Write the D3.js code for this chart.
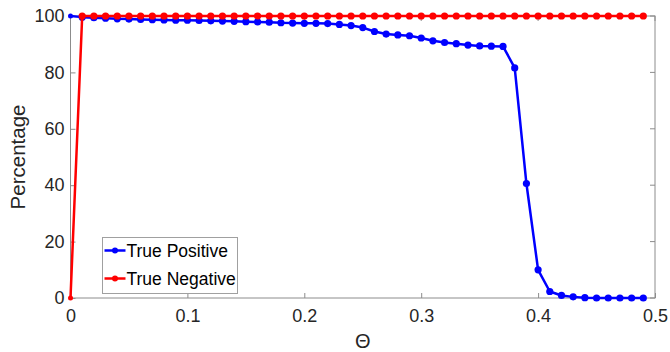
<!DOCTYPE html>
<html>
<head>
<meta charset="utf-8">
<script src="https://cdn.jsdelivr.net/npm/d3@7"></script>
<style>
  body { margin: 0; background: #fff; }
  svg { font-family: "Liberation Sans", Arial, sans-serif; }
</style>
</head>
<body>
<div id="chart"></div>
<script>
// theta steps 0 .. 0.49
const theta = d3.range(50).map(i => +(i * 0.01).toFixed(2))

const truePositive = [
  100, 99.6, 99.4, 99.2, 99.0, 98.9, 98.8, 98.7, 98.6, 98.5,
  98.5, 98.4, 98.3, 98.2, 98.1, 98.0, 97.9, 97.8, 97.6, 97.5,
  97.4, 97.4, 97.3, 97.0, 96.6, 95.9, 94.5, 93.6, 93.3, 93.0,
  92.2, 91.2, 90.6, 90.2, 89.7, 89.4, 89.3, 89.2, 81.6, 40.6,
  10.0, 2.3, 0.9, 0.4, 0.1, 0, 0, 0, 0, 0
]

const trueNegative = [
  0, 100, 100, 100, 100, 100, 100, 100, 100, 100,
  100, 100, 100, 100, 100, 100, 100, 100, 100, 100,
  100, 100, 100, 100, 100, 100, 100, 100, 100, 100,
  100, 100, 100, 100, 100, 100, 100, 100, 100, 100,
  100, 100, 100, 100, 100, 100, 100, 100, 100, 100
]

const xTicks = [0, 0.1, 0.2, 0.3, 0.4, 0.5]
const yTicks = [0, 20, 40, 60, 80, 100]

const series = [
  { name: 'True Positive', color: '#0000ff', values: truePositive },
  { name: 'True Negative', color: '#ff0000', values: trueNegative }
]

const width = 670
const height = 352
const margin = { top: 16, right: 15, bottom: 54, left: 70.5 }

const svg = d3.select('#chart')
  .append('svg')
  .attr('width', width)
  .attr('height', height)

const x = d3.scaleLinear().domain([0, 0.5]).range([margin.left, width - margin.right])
const y = d3.scaleLinear().domain([0, 100]).range([height - margin.bottom, margin.top])

const axisColor = '#8c8c8c'
const textColor = '#262626'
const tickLen = 5

// box
svg.append('rect')
  .attr('x', x(0))
  .attr('y', y(100))
  .attr('width', x(0.5) - x(0))
  .attr('height', y(0) - y(100))
  .attr('fill', 'none')
  .attr('stroke', axisColor)
  .attr('stroke-width', 1)

// bottom axis, ticks pointing inward
const xAxis = svg.append('g')
  .attr('transform', `translate(0,${y(0)})`)
  .call(d3.axisBottom(x).tickValues(xTicks).tickSize(-tickLen).tickPadding(11)
    .tickFormat(d => d === 0 ? '0' : d3.format('.1f')(d)))
xAxis.select('.domain').remove()
xAxis.selectAll('line').attr('stroke', axisColor)
xAxis.selectAll('text').attr('fill', textColor).style('font-size', '18px')

// top mirrored ticks
svg.append('g')
  .selectAll('line')
  .data(xTicks)
  .enter()
  .append('line')
  .attr('x1', d => x(d)).attr('x2', d => x(d))
  .attr('y1', y(100)).attr('y2', y(100) + tickLen)
  .attr('stroke', axisColor)

// left axis
const yAxis = svg.append('g')
  .attr('transform', `translate(${x(0)},0)`)
  .call(d3.axisLeft(y).tickValues(yTicks).tickSize(-tickLen).tickPadding(6))
yAxis.select('.domain').remove()
yAxis.selectAll('line').attr('stroke', axisColor)
yAxis.selectAll('text').attr('fill', textColor).style('font-size', '18px')

// right mirrored ticks
svg.append('g')
  .selectAll('line')
  .data(yTicks)
  .enter()
  .append('line')
  .attr('x1', x(0.5) - tickLen).attr('x2', x(0.5))
  .attr('y1', d => y(d)).attr('y2', d => y(d))
  .attr('stroke', axisColor)

// axis labels
svg.append('text')
  .attr('transform', `translate(25,${(y(0) + y(100)) / 2}) rotate(-90)`)
  .attr('text-anchor', 'middle')
  .attr('fill', textColor)
  .style('font-size', '20.5px')
  .text('Percentage')

svg.append('text')
  .attr('x', (x(0) + x(0.5)) / 2)
  .attr('y', 348)
  .attr('text-anchor', 'middle')
  .attr('fill', textColor)
  .style('font-size', '20px')
  .text('Θ')

// lines
const line = d3.line()
  .x((d, i) => x(theta[i]))
  .y(d => y(d))

series.forEach(s => {
  const g = svg.append('g')
  g.append('path')
    .datum(s.values)
    .attr('d', line)
    .attr('fill', 'none')
    .attr('stroke', s.color)
    .attr('stroke-width', 2.5)
    .attr('stroke-linejoin', 'round')

  g.selectAll('circle')
    .data(s.values)
    .enter()
    .append('circle')
    .attr('cx', (d, i) => x(theta[i]))
    .attr('cy', d => y(d))
    .attr('r', (d, i) => i === 0 ? 2.5 : 3.6)
    .attr('fill', s.color)
})

// legend
const legend = svg.append('g').attr('transform', 'translate(102.5,237.5)')
legend.append('rect')
  .attr('width', 135)
  .attr('height', 56)
  .attr('fill', '#fff')
  .attr('stroke', '#a0a0a0')
  .attr('stroke-width', 1)

series.forEach((s, i) => {
  const cy = 13 + i * 28
  legend.append('line')
    .attr('x1', 2).attr('x2', 23)
    .attr('y1', cy).attr('y2', cy)
    .attr('stroke', s.color)
    .attr('stroke-width', 2.5)
  legend.append('circle')
    .attr('cx', 12.5).attr('cy', cy)
    .attr('r', 3)
    .attr('fill', s.color)
  legend.append('text')
    .attr('x', 24)
    .attr('y', cy + 6)
    .attr('fill', '#000')
    .style('font-size', '17.5px')
    .text(s.name)
})
</script>
</body>
</html>
